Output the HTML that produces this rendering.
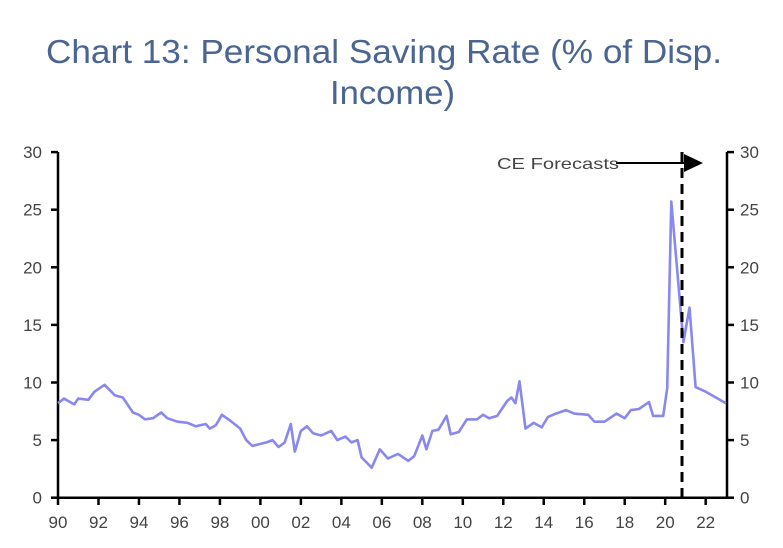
<!DOCTYPE html>
<html><head><meta charset="utf-8"><style>
html,body{margin:0;padding:0;background:#fff;}
svg{display:block;}
</style></head><body>
<svg width="783" height="548" xmlns="http://www.w3.org/2000/svg" font-family="Liberation Sans, sans-serif">
<text x="46" y="63" font-size="33" fill="#4a6592" textLength="676" lengthAdjust="spacingAndGlyphs">Chart 13: Personal Saving Rate (% of Disp.</text>
<text x="330" y="104" font-size="33" fill="#4a6592" textLength="125" lengthAdjust="spacingAndGlyphs">Income)</text>
<g id="ax" stroke="#000" stroke-width="2.5" fill="none"></g>
<g id="lbl" font-size="17" fill="#444"></g>
<polyline id="ser" fill="none" stroke="#8888ee" stroke-width="2.6" stroke-linejoin="round"/>
<line x1="682" y1="152" x2="682" y2="497" stroke="#000" stroke-width="3" stroke-dasharray="10,6"/>
<line x1="616" y1="163" x2="686" y2="163" stroke="#000" stroke-width="2"/>
<polygon points="684,154 703,163 684,172" fill="#000"/>
<text x="497" y="169" font-size="16" fill="#444" textLength="122" lengthAdjust="spacingAndGlyphs">CE Forecasts</text>
</svg>
<script>
var X=function(y){return 58+(y-1990)*20.24;}, Y=function(v){return 497.7-v*11.52;};
var ns="http://www.w3.org/2000/svg",ax=document.getElementById('ax'),lb=document.getElementById('lbl');
function ln(a,b,c,d){var e=document.createElementNS(ns,'line');e.setAttribute('x1',a);e.setAttribute('y1',b);e.setAttribute('x2',c);e.setAttribute('y2',d);ax.appendChild(e);}
function tx(x,y,t,anc){var e=document.createElementNS(ns,'text');e.setAttribute('x',x);e.setAttribute('y',y);e.setAttribute('text-anchor',anc);e.textContent=t;lb.appendChild(e);}
ln(58,152,58,498);ln(727,152,727,498);ln(57,497.7,728,497.7);
for(var v=0;v<=30;v+=5){var y=Y(v);ln(51,y,58,y);ln(727,y,734,y);tx(42,y+6,v,'end');tx(740,y+6,v,'start');}
for(var yr=1990;yr<=2022;yr+=2){var x=X(yr);ln(x,497.7,x,505);tx(x,528,String(yr%100).padStart(2,'0'),'middle');}
var d=[[1990,8.2],[1990.3,8.6],[1990.8,8.1],[1991,8.6],[1991.5,8.5],[1991.8,9.2],[1992.3,9.8],[1992.8,8.9],[1993.2,8.7],[1993.7,7.4],[1994,7.2],[1994.3,6.8],[1994.7,6.9],[1995.1,7.4],[1995.4,6.9],[1995.9,6.6],[1996.4,6.5],[1996.8,6.2],[1997.3,6.4],[1997.5,6.0],[1997.8,6.3],[1998.1,7.2],[1998.5,6.7],[1999,6.0],[1999.3,5.0],[1999.6,4.5],[2000.3,4.8],[2000.6,5.0],[2000.9,4.4],[2001.2,4.8],[2001.5,6.4],[2001.7,4.0],[2002,5.8],[2002.3,6.2],[2002.6,5.6],[2003,5.4],[2003.5,5.8],[2003.8,5.0],[2004.2,5.3],[2004.5,4.8],[2004.8,5.0],[2005,3.5],[2005.5,2.6],[2005.9,4.2],[2006.3,3.4],[2006.8,3.8],[2007.3,3.2],[2007.6,3.6],[2008,5.4],[2008.2,4.2],[2008.5,5.8],[2008.8,5.9],[2009.2,7.1],[2009.4,5.5],[2009.8,5.7],[2010.2,6.8],[2010.7,6.8],[2011,7.2],[2011.3,6.9],[2011.7,7.1],[2012.2,8.4],[2012.4,8.7],[2012.6,8.2],[2012.8,10.1],[2013.1,6.0],[2013.5,6.5],[2013.9,6.1],[2014.2,7.0],[2014.6,7.3],[2015.1,7.6],[2015.5,7.3],[2016.2,7.2],[2016.5,6.6],[2017,6.6],[2017.6,7.3],[2018,6.9],[2018.3,7.6],[2018.7,7.7],[2019.2,8.3],[2019.4,7.1],[2019.9,7.1],[2020.1,9.5],[2020.3,25.7],[2020.9,13.5],[2021.2,16.5],[2021.5,9.6],[2022,9.2],[2023,8.2]];
document.getElementById('ser').setAttribute('points',d.map(function(p){return X(p[0]).toFixed(1)+','+Y(p[1]).toFixed(1);}).join(' '));
</script>
</body></html>
